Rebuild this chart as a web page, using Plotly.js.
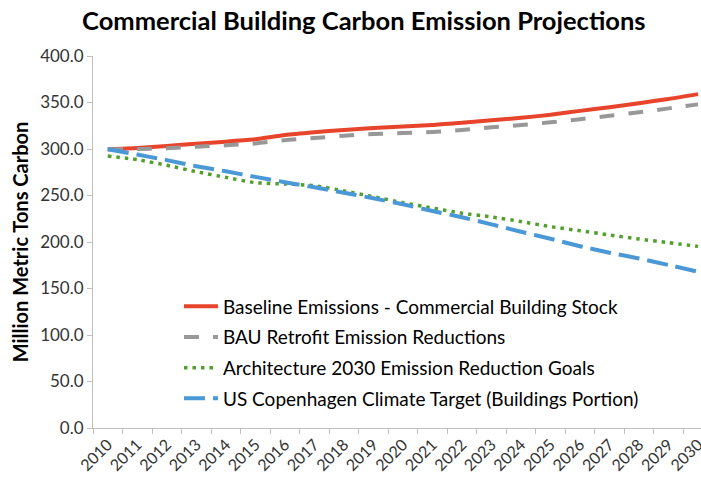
<!DOCTYPE html>
<html>
<head>
<meta charset="utf-8">
<script src="https://cdn.plot.ly/plotly-3.0.1.min.js"></script>
<style>html,body{margin:0;padding:0;background:#fff;}#chart{width:701px;height:480px;}</style>
</head>
<body>
<div id="chart"></div>
<script>
const years = ["2010","2011","2012","2013","2014","2015","2016","2017","2018","2019","2020","2021","2022","2023","2024","2025","2026","2027","2028","2029","2030"];
const baseline = [299.7, 301.1, 303.2, 305.7, 307.9, 310.4, 315.0, 318.0, 320.5, 322.5, 324.3, 325.8, 328.3, 331.0, 333.5, 336.8, 341.0, 345.0, 349.3, 353.8, 359.0];
const bauRetrofit = [299.7, 300.0, 300.7, 302.5, 304.0, 306.0, 309.5, 311.8, 314.3, 316.0, 317.2, 318.3, 320.4, 323.3, 325.8, 328.7, 332.0, 335.8, 339.4, 343.7, 348.0];
const arch2030 = [292.5, 288.5, 282.5, 275.6, 269.5, 263.8, 262.4, 260.5, 255.0, 248.7, 242.3, 236.5, 231.0, 227.0, 222.0, 216.5, 212.2, 207.5, 203.2, 199.3, 195.3];
const copenhagen = [299.7, 294.0, 288.0, 281.5, 276.0, 270.0, 264.3, 258.8, 253.0, 247.0, 240.5, 233.3, 226.6, 219.0, 211.0, 203.5, 195.5, 188.5, 182.3, 175.3, 168.1];
const seriesNames = ["Baseline Emissions - Commercial Building Stock","BAU Retrofit Emission Reductions","Architecture 2030 Emission Reduction Goals","US Copenhagen Climate Target (Buildings Portion)"];
const yTicks = [0,50,100,150,200,250,300,350,400];

const FONT = "Lato, 'Open Sans', sans-serif";
const traces = [
  {x: years, y: baseline, name: seriesNames[0], legendgroup:'a', mode:'lines',
   line:{color:'#e8432b', width:4, shape:'spline', smoothing:0.6}},
  {x: years, y: bauRetrofit, name: seriesNames[1], legendgroup:'b', mode:'lines',
   line:{color:'#989898', width:4, dash:'15px,14px', shape:'spline', smoothing:0.6}},
  {x: years, y: arch2030, name: seriesNames[2], legendgroup:'c', mode:'lines',
   line:{color:'#52a02c', width:3.5, dash:'3.5px,5px', shape:'spline', smoothing:0.6}},
  {x: years, y: copenhagen, name: seriesNames[3], legendgroup:'d', mode:'lines',
   line:{color:'#4b98d6', width:4, dash:'21px,8px', shape:'spline', smoothing:0.6}}
];

const layout = {
  width:701, height:480,
  margin:{l:93, r:0, t:56, b:52},
  paper_bgcolor:'#fff', plot_bgcolor:'#fff',
  font:{family:FONT, color:'#333', size:16},
  title:{text:'<b>Commercial Building Carbon Emission Projections</b>', x:0.519, xanchor:'center', y:0.956, yanchor:'middle',
         font:{family:FONT, size:25.5, color:'#000'}},
  xaxis:{type:'category', range:[-0.5, 20.1], tickson:'boundaries', ticks:'outside', ticklen:5, tickcolor:'#bfbfbf',
         showline:true, linecolor:'#bfbfbf', linewidth:1, showgrid:false, zeroline:false, tickangle:-45,
         tickfont:{family:FONT, size:16, color:'#333'}, automargin:false, fixedrange:true},
  yaxis:{range:[0,400], tickvals:yTicks, tickformat:'.1f', ticks:'outside', ticklen:5, tickcolor:'#bfbfbf',
         showline:true, linecolor:'#bfbfbf', linewidth:1, showgrid:false, zeroline:false,
         tickfont:{family:FONT, size:17, color:'#333'}, automargin:false,
         title:{text:'<b>Million Metric Tons Carbon</b>', standoff:6, font:{family:FONT, size:20, color:'#000'}}},
  legend:{x:0.1414, y:0.378, xanchor:'left', yanchor:'top', bgcolor:'rgba(0,0,0,0)', borderwidth:0,
          traceorder:'grouped', tracegroupgap:3, itemwidth:34, font:{family:FONT, size:19, color:'#000'}},
  showlegend:true
};
Plotly.newPlot('chart', traces, layout, {staticPlot:true, displayModeBar:false});
</script>
</body>
</html>
